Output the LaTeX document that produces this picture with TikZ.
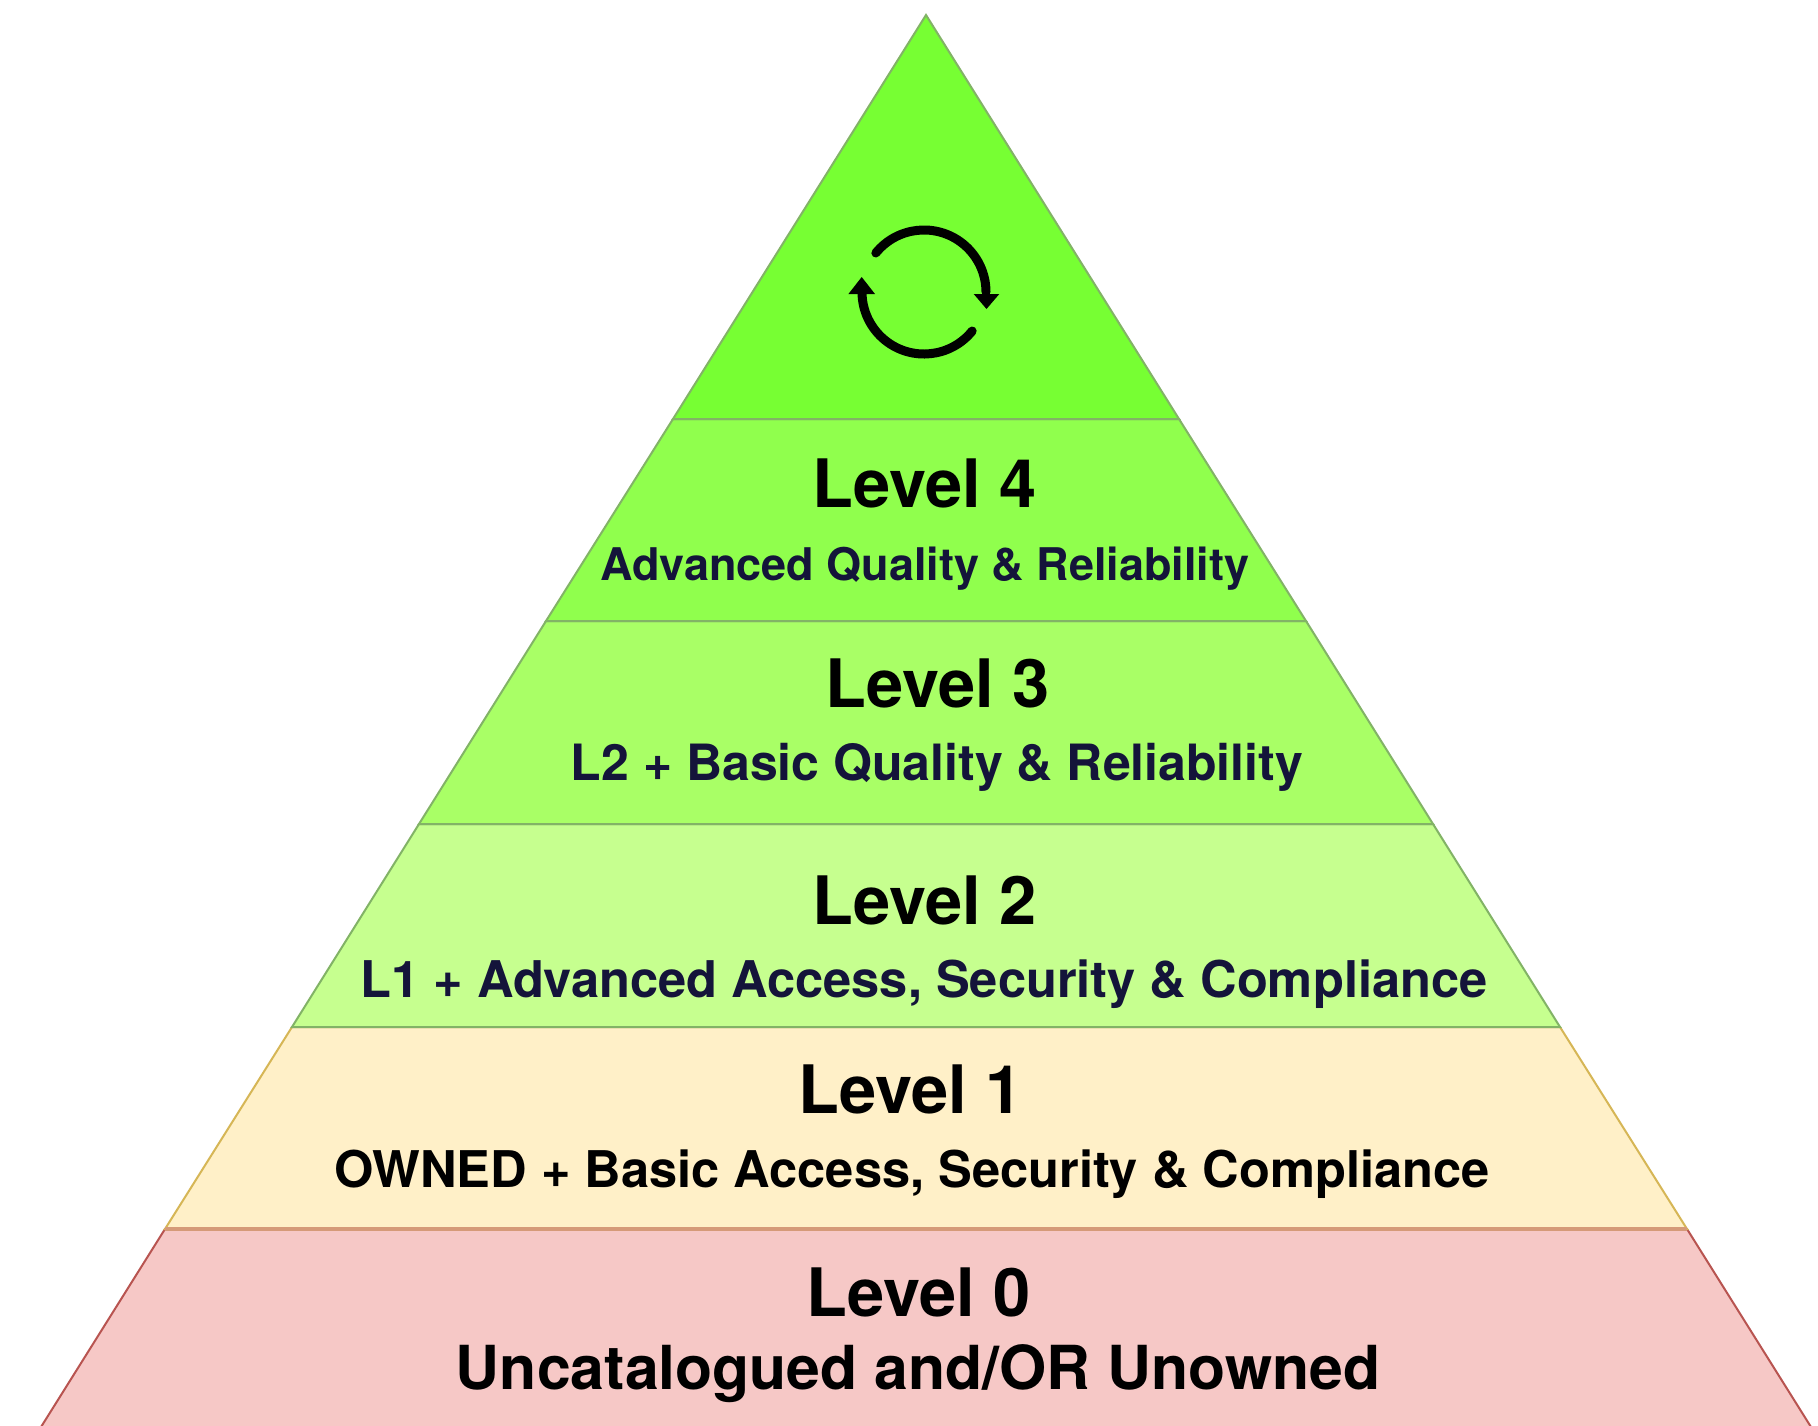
\documentclass[tikz,border=0pt]{standalone}
\usepackage{fontspec}
\setmainfont{TeX Gyre Heros}
\definecolor{cTop}{HTML}{77FF33}
\definecolor{cFour}{HTML}{90FF4D}
\definecolor{cThree}{HTML}{A9FF66}
\definecolor{cTwo}{HTML}{C6FF8F}
\definecolor{cOne}{HTML}{FFF0C8}
\definecolor{cZero}{HTML}{F6C8C6}
\definecolor{edgeG}{HTML}{82B366}
\definecolor{edgeY}{HTML}{D6B656}
\definecolor{edgeR}{HTML}{B85450}
\definecolor{edgeMix}{HTML}{D59A78}
\definecolor{navy}{HTML}{14143A}
\tikzset{
  layer/.style={line width=2pt,line join=miter},
  title/.style={anchor=base,inner sep=0pt,font=\bfseries\fontsize{66.8}{66.8}\selectfont,text=black},
  subfour/.style={anchor=base,inner sep=0pt,font=\bfseries\fontsize{45}{45}\selectfont,text=navy},
  subthree/.style={anchor=base,inner sep=0pt,font=\bfseries\fontsize{50}{50}\selectfont,text=navy},
  subtwo/.style={anchor=base,inner sep=0pt,font=\bfseries\fontsize{50.6}{50.6}\selectfont,text=navy},
  subone/.style={anchor=base,inner sep=0pt,font=\bfseries\fontsize{50.6}{50.6}\selectfont,text=black},
  subzero/.style={anchor=base,inner sep=0pt,font=\bfseries\fontsize{60.7}{60.7}\selectfont,text=black},
  loopline/.style={line width=9pt,line cap=round,black},
}
\begin{document}
\begin{tikzpicture}[x=1pt,y=-1pt]
\useasboundingbox (0,0) rectangle (1818,1425);
\clip (0,0) rectangle (1818,1425);
\fill[white] (0,0) rectangle (1818,1425);
% layers, bottom-left x = 926 - 0.6276*(y-15)
\filldraw[layer,fill=cZero,draw=edgeR] (165,1229) -- (1687,1229) -- (1811,1427) -- (41,1427) -- cycle;
\filldraw[layer,fill=cOne,draw=edgeY] (292,1027) -- (1560,1027) -- (1687,1229) -- (165,1229) -- cycle;
\filldraw[layer,fill=cTwo,draw=edgeG] (419,824) -- (1433,824) -- (1560,1027) -- (292,1027) -- cycle;
\filldraw[layer,fill=cThree,draw=edgeG] (546,621) -- (1306,621) -- (1433,824) -- (419,824) -- cycle;
\filldraw[layer,fill=cFour,draw=edgeG] (673,419) -- (1179,419) -- (1306,621) -- (546,621) -- cycle;
\filldraw[layer,fill=cTop,draw=edgeG] (926,15) -- (1179,419) -- (673,419) -- cycle;
\draw[line width=3.5pt,color=edgeMix] (165,1229) -- (1687,1229);
% loop icon
\coordinate (loop) at (924,292);
\draw[loopline] (loop) ++(-141:62) arc[start angle=-141,end angle=0,radius=62];
\draw[loopline] (loop) ++(39:62) arc[start angle=39,end angle=180,radius=62];
\fill (loop) ++(49.7,2) -- ++(25.6,0) -- ++(-12.8,15) -- cycle;
\fill (loop) ++(-75.6,2) -- ++(26.6,0) -- ++(-13.3,-17) -- cycle;
% labels
\node[title] (l4) at (925,507) {Level 4};
\node[subfour] (s4) at (925,580) {Advanced Quality \& Reliability};
\node[title] (l3) at (938,707) {Level 3};
\node[subthree] (s3) at (937,780) {L2 + Basic Quality \& Reliability};
\node[title] (l2) at (925,924) {Level 2};
\node[subtwo] (s2) at (924,997) {L1 + Advanced Access, Security \& Compliance};
\node[title] (l1) at (911,1113) {Level 1};
\node[subone] (s1) at (912,1187) {OWNED + Basic Access, Security \& Compliance};
\node[title] (l0) at (919,1316) {Level 0};
\node[subzero] (s0) at (918,1389) {Uncatalogued and/OR Unowned};
\end{tikzpicture}
\end{document}
